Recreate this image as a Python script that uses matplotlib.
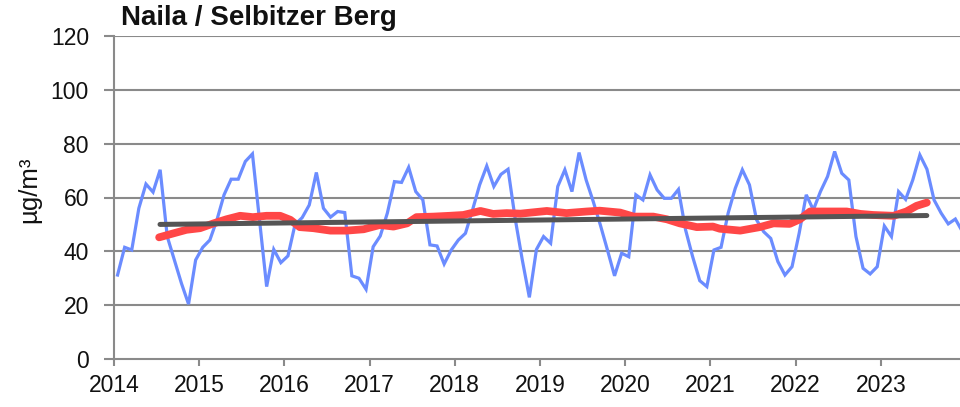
import numpy as np
import matplotlib
matplotlib.use("Agg")
import matplotlib.pyplot as plt

# ---- data ----
years = list(range(2014, 2024))
monthly = [
    # 2014
    31.2, 41.5, 40.5, 56.0, 65.0, 62.0, 70.3, 45.5, 36.8, 28.1, 20.4, 36.8,
    # 2015
    41.5, 44.2, 51.7, 61.0, 66.8, 66.8, 73.4, 76.2, 51.5, 26.9, 40.7, 35.8,
    # 2016
    38.3, 50.0, 52.5, 57.2, 69.3, 56.0, 52.7, 54.8, 54.4, 30.9, 30.0, 25.9,
    # 2017
    41.7, 45.7, 54.2, 65.9, 65.6, 71.2, 62.2, 59.1, 42.4, 42.0, 35.3, 40.5,
    # 2018
    44.2, 46.7, 55.4, 64.7, 71.7, 64.1, 68.6, 70.5, 52.2, 36.9, 22.9, 40.7,
    # 2019
    45.5, 43.0, 64.1, 70.3, 62.2, 76.7, 66.5, 58.5, 49.8, 40.5, 30.9, 39.3,
    # 2020
    38.0, 61.0, 59.1, 68.4, 62.8, 59.7, 59.7, 63.0, 48.0, 38.0, 29.1, 26.9,
    # 2021
    40.5, 41.5, 54.2, 63.4, 70.3, 64.7, 51.7, 47.3, 44.8, 36.2, 31.2, 34.3,
    # 2022
    46.7, 61.0, 55.4, 62.2, 67.8, 77.1, 69.0, 66.5, 45.5, 33.7, 31.6, 34.3,
    # 2023
    49.4, 45.5, 62.2, 59.3, 66.5, 75.8, 70.5, 59.1, 54.2, 50.2, 52.0, 47.3,
]

# 12-month moving average (decimal year, value)
ma_x = [2014.53, 2014.70, 2014.85, 2015.01, 2015.17, 2015.32, 2015.48, 2015.63,
        2015.79, 2015.95, 2016.07, 2016.18, 2016.34, 2016.54, 2016.73, 2016.93,
        2017.12, 2017.28, 2017.44, 2017.55, 2017.75, 2017.94, 2018.10, 2018.30,
        2018.45, 2018.61, 2018.77, 2019.08, 2019.31, 2019.55, 2019.70, 2019.94,
        2020.10, 2020.33, 2020.49, 2020.64, 2020.84, 2021.03, 2021.11, 2021.35,
        2021.58, 2021.74, 2021.93, 2022.05, 2022.17, 2022.37, 2022.60, 2022.76,
        2022.91, 2023.15, 2023.30, 2023.42, 2023.54]
ma_y = [45.2, 46.7, 48.0, 48.6, 50.4, 51.9, 53.2, 52.7,
        53.2, 53.2, 51.7, 49.0, 48.6, 47.7, 47.7, 48.2,
        49.8, 49.2, 50.4, 52.7, 52.9, 53.2, 53.5, 55.0,
        53.9, 54.2, 54.0, 55.0, 54.2, 54.8, 55.1, 54.4,
        52.9, 52.9, 51.9, 50.4, 49.0, 49.2, 48.4, 47.7,
        49.0, 50.4, 50.2, 51.9, 54.8, 54.8, 54.8, 53.9,
        53.5, 53.2, 54.8, 56.9, 58.1]

# linear trend (start, end)
trend_x = [2014.54, 2023.54]
trend_y = [50.0, 53.3]

yticks = [0, 20, 40, 60, 80, 100, 120]
title = "Naila / Selbitzer Berg"
ylabel = "µg/m³"

# ---- plot ----
plt.rcParams['font.family'] = ['Liberation Sans', 'DejaVu Sans']

W, H = 960, 407
fig = plt.figure(figsize=(W / 100, H / 100), dpi=100)
ax = fig.add_axes([114 / W, 48 / H, (966 - 114) / W, (359 - 36) / H])

t = np.array([y + (m + 0.5) / 12 for y in years for m in range(12)])

grid_c = '#8a8a8a'
for v in yticks[1:]:
    ax.axhline(v, color=grid_c, lw=1.5, zorder=1)

ax.plot(t, monthly, color='#6B8CFF', lw=2.3, zorder=3, solid_joinstyle='miter')
ax.plot(ma_x, ma_y, color='#FF4747', lw=5.6, zorder=4, solid_capstyle='round')
ax.plot(trend_x, trend_y, color='#555555', lw=3.6, zorder=5, solid_capstyle='round')

ax.set_xlim(2014, 2024)
ax.set_ylim(0, 120)
ax.set_yticks(yticks)
ax.set_xticks(years)
ax.set_xticklabels([str(y) for y in years])

for s in ['top', 'right']:
    ax.spines[s].set_visible(False)
for s in ['left', 'bottom']:
    ax.spines[s].set_color(grid_c)
    ax.spines[s].set_linewidth(1.5)

ax.tick_params(axis='y', direction='out', length=7, width=1.5, color=grid_c,
               labelsize=16.5, pad=11, labelcolor='#111111')
ax.tick_params(axis='x', direction='out', length=5, width=1.5, color=grid_c,
               labelsize=16.5, pad=6, labelcolor='#111111')

fig.text(121 / W, 1 - 5 / H, title, fontsize=20, fontweight='bold',
         va='top', ha='left', color='#111111')
fig.text(29 / W, 1 - 190 / H, ylabel, fontsize=18.5, rotation=90,
         va='center', ha='center', color='#111111')

fig.savefig('out.png', dpi=100)
